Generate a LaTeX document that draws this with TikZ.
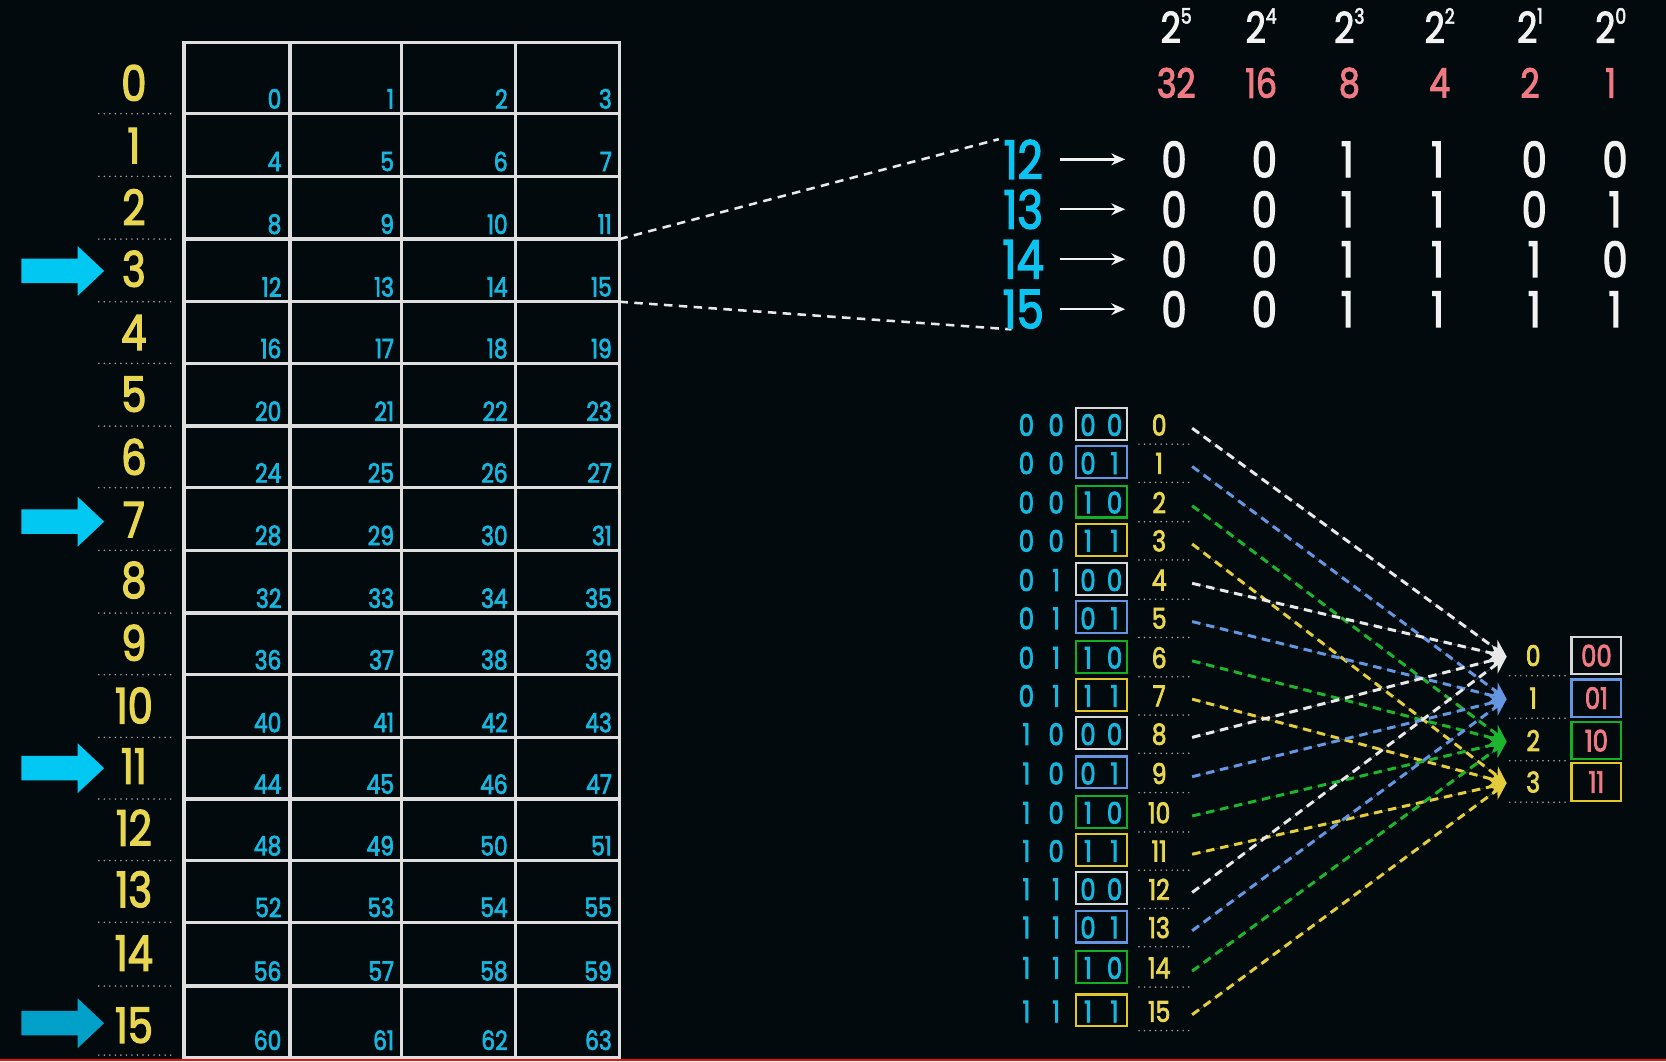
\documentclass[tikz,border=0pt]{standalone}
\usepackage{fontspec}
\setmainfont{Poppins}[FakeStretch=0.82,FakeBold=2.6]
\usetikzlibrary{arrows.meta}
\newcommand\myfs[1]{\fontsize{#1}{#1}\selectfont}
\definecolor{bg}{RGB}{3,10,14}
\definecolor{ylab}{RGB}{232,214,80}
\definecolor{cyn}{RGB}{22,182,222}
\definecolor{cynb}{RGB}{10,195,240}
\definecolor{arrc}{RGB}{0,200,242}
\definecolor{arrd}{RGB}{0,160,200}
\definecolor{pnk}{RGB}{240,122,132}
\definecolor{wht}{RGB}{242,242,242}
\definecolor{gridc}{RGB}{222,222,222}
\definecolor{dotc}{RGB}{170,170,170}
\definecolor{bc0}{RGB}{215,215,215}
\definecolor{bc1}{RGB}{100,150,225}
\definecolor{bc2}{RGB}{20,175,35}
\definecolor{bc3}{RGB}{225,200,40}
\definecolor{lnc0}{RGB}{232,232,232}
\definecolor{lnc1}{RGB}{100,150,225}
\definecolor{lnc2}{RGB}{30,180,45}
\definecolor{lnc3}{RGB}{228,205,60}
\definecolor{redbar}{RGB}{235,20,20}
\begin{document}
\begin{tikzpicture}[x=1pt,y=-1pt,
  gridline/.style={draw=gridc,line width=3.2pt},
  rowlab/.style={text=ylab,font=\myfs{46},inner sep=0pt},
  cellnum/.style={text=cyn,font=\myfs{25},anchor=east,inner sep=0pt},
  dots/.style={draw=dotc,line width=1.6pt,line cap=round,dash pattern=on 0pt off 5.2pt},
  wdash/.style={draw=lnc0,line width=2.4pt,dash pattern=on 8pt off 6pt},
  bigbit/.style={text=wht,font=\myfs{46},inner sep=0pt},
  biglab/.style={text=cynb,font=\myfs{50},inner sep=0pt},
  warrow/.style={draw=wht,line width=2.2pt,-{Stealth[length=13pt,width=11pt]}},
  lbit/.style={text=cyn,font=\myfs{28},inner sep=0pt},
  setline/.style={line width=2.8pt,dash pattern=on 8pt off 5.5pt,-{Stealth[length=16pt,width=15pt]}},
  setbox/.style={line width=2pt,minimum width=47pt,minimum height=35pt,inner sep=0pt,text=pnk,font=\myfs{28}}
]
\fill[bg] (0,0) rectangle (1568,999);
\useasboundingbox (0,0) rectangle (1568,999);

% ---------- table ----------
\draw[gridline] (173,40) rectangle (583,995);
\foreach \x in {273,378,485} \draw[gridline] (\x,40) -- (\x,995);
\foreach \yb in {107,166,225,284,342,401,459,518,577,635,694,752,810,868,928}
  \draw[gridline] (173,\yb) -- (583,\yb);
\foreach \r/\yb in {0/107,1/166,2/225,3/284,4/342,5/401,6/459,7/518,8/577,9/635,10/694,11/752,12/810,13/868,14/928,15/993}{
  \foreach \c/\xr in {0/265,1/371,2/478,3/576}{
    \pgfmathtruncatemacro\n{4*\r+\c}
    \node[cellnum] (n\n) at (\xr,\yb-14) {\n};
  }
  \draw[dots] (93,\yb) -- (165,\yb);
}
\foreach \r/\yl in {0/78,1/137,2/195,3/253,4/313,5/371,6/430,7/489,8/546,9/605,10/664,11/721,12/779,13/837,14/897,15/965}
  \node[rowlab] (rl\r) at (126,\yl) {\r};

% block arrows
\foreach \c/\col in {255/arrc,491/arrc,723/arrc,963/arrd}
  \fill[\col] (20,\c-11.5) -- (73,\c-11.5) -- (73,\c-23.5) -- (98,\c) -- (73,\c+23.5) -- (73,\c+11.5) -- (20,\c+11.5) -- cycle;

% zoom lines
\coordinate (tA) at (583,225);
\coordinate (tB) at (583,284);
\coordinate (zA) at (940,131);
\coordinate (zB) at (952,310);
\draw[wdash] (tA) -- (zA);
\draw[wdash] (tB) -- (zB);

% ---------- powers ----------
\foreach \i/\x/\e/\v in {0/1107/5/32,1/1187/4/16,2/1270/3/8,3/1355/2/4,4/1440/1/2,5/1516/0/1}{
  \node[text=wht,font=\myfs{40},inner sep=0pt] (pw\i) at (\x,24) {2\raisebox{0.45em}{\myfs{20}\e}};
  \node[text=pnk,font=\myfs{38},inner sep=0pt] (pv\i) at (\x,78) {\v};
}
\foreach \r/\y/\ba/\bb/\bc/\bd/\be/\bf in {12/150/0/0/1/1/0/0,13/197/0/0/1/1/0/1,14/244/0/0/1/1/1/0,15/291/0/0/1/1/1/1}{
  \node[biglab] (bl\r) at (963,\y) {\r};
  \coordinate (as\r) at (998,\y);
  \coordinate (ae\r) at (1059,\y);
  \draw[warrow] (as\r) -- (ae\r);
  \node[bigbit] (b\r a) at (1105,\y) {\ba};
  \node[bigbit] (b\r b) at (1190,\y) {\bb};
  \node[bigbit] (b\r c) at (1268,\y) {\bc};
  \node[bigbit] (b\r d) at (1353,\y) {\bd};
  \node[bigbit] (b\r e) at (1444,\y) {\be};
  \node[bigbit] (b\r f) at (1520,\y) {\bf};
}

% ---------- sets ----------
\foreach \j/\ty/\lab in {0/618/00,1/658/01,2/698/10,3/737/11}{
  \coordinate (tg\j) at (1418,\ty);
  \node[text=ylab,font=\myfs{27},inner sep=0pt] (sl\j) at (1443,\ty-1) {\j};
  \draw[dots] (1421,\ty+18) -- (1473,\ty+18);
  \node[setbox,draw=bc\j] (sb\j) at (1502.5,\ty-1) {\lab};
}

% ---------- addresses ----------
\foreach \i/\y/\a/\b/\c/\d in {0/400/0/0/0/0,1/436/0/0/0/1,2/473/0/0/1/0,3/509/0/0/1/1,4/546/0/1/0/0,5/582/0/1/0/1,6/619/0/1/1/0,7/655/0/1/1/1,8/691/1/0/0/0,9/728/1/0/0/1,10/765/1/0/1/0,11/801/1/0/1/1,12/837/1/1/0/0,13/873/1/1/0/1,14/911/1/1/1/0,15/952/1/1/1/1}{
  \pgfmathtruncatemacro\m{mod(\i,4)}
  \node[lbit] (la\i) at (966,\y) {\a};
  \node[lbit] (lb\i) at (994,\y) {\b};
  \node[draw=bc\m,line width=2pt,minimum width=48pt,minimum height=30pt,inner sep=0pt] (bx\i) at (1036.5,\y-1) {};
  \node[lbit] (lc\i) at (1024,\y) {\c};
  \node[lbit] (ld\i) at (1049,\y) {\d};
  \node[text=ylab,font=\myfs{27},inner sep=0pt] (li\i) at (1091,\y) {\i};
  \draw[dots] (1072,\y+18) -- (1120,\y+18);
  \coordinate (ls\i) at (1122,\y+3);
  \draw[setline,draw=lnc\m,fill=lnc\m] (ls\i) -- (tg\m);
}

% progress bar
\fill[redbar] (0,996.5) rectangle (1568,999);
\end{tikzpicture}
\end{document}
